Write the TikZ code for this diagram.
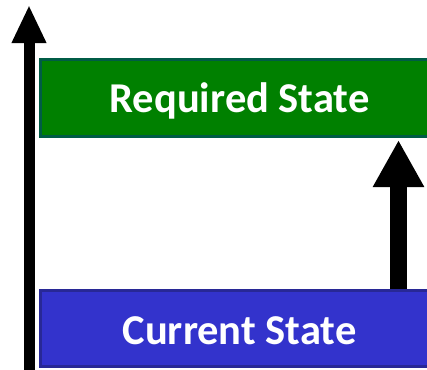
\documentclass[tikz,border=0pt]{standalone}
\usepackage{fontspec}
\setmainfont{Carlito}
\usetikzlibrary{arrows.meta}
\definecolor{reqfill}{RGB}{0,128,0}
\definecolor{reqline}{RGB}{0,92,70}
\definecolor{curfill}{RGB}{51,51,204}
\definecolor{curline}{RGB}{40,40,150}
\tikzset{
  statebox/.style={draw, line width=3pt, minimum width=398pt, minimum height=77pt,
    inner sep=0pt, text=white, font=\fontsize{42.5}{50}\selectfont\bfseries},
  bigarrow/.style={draw=black, line width=#1, line cap=butt},
}
\begin{document}
\begin{tikzpicture}[x=1pt,y=-1pt]
\useasboundingbox (0,0) rectangle (427,369);
\clip (0,0) rectangle (427,369);
\node[statebox, fill=reqfill, draw=reqline, anchor=north west] (req) at (39,58) {\raisebox{-3pt}[\height][\depth]{Required State}};
\node[statebox, fill=curfill, draw=curline, anchor=north west, minimum height=76pt] (cur) at (39,289) {\raisebox{-2pt}[\height][\depth]{Current State}};
\coordinate (lbot) at (29,375);
\coordinate (ltop) at (29,5);
\draw[bigarrow=11pt, -{Triangle[length=38pt,width=32pt]}] (lbot) -- (ltop);
\draw[bigarrow=17pt, -{Triangle[length=47pt,width=48pt]}, shorten >=2pt]
  (cur.north -| 398.5,0) -- (req.south -| 398.5,0);
\end{tikzpicture}
\end{document}
